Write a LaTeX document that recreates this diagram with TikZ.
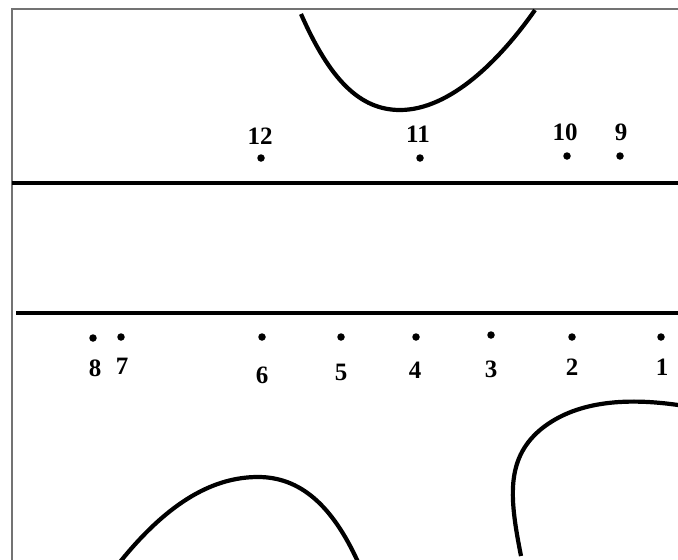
\documentclass[tikz,border=0pt]{standalone}
\usepackage{fontspec}
\setmainfont{Liberation Serif}
\begin{document}
\begin{tikzpicture}[x=1pt,y=-1pt,
  frame/.style={draw=black!55,line width=1.6pt},
  hline/.style={line width=4.6pt},
  curve/.style={line width=4.2pt,line cap=butt},
  pt/.style={circle,fill=black,inner sep=0pt,minimum size=7.5pt},
  lab/.style={inner sep=0pt,font=\fontsize{25}{25}\selectfont\bfseries}]
\useasboundingbox (0,0) rectangle (678,560);
\fill[white] (0,0) rectangle (678,560);
% frame
\draw[frame] (12,560) -- (12,9) -- (678,9);
% horizontal lines
\draw[hline] (12,183) -- (678,183);
\draw[hline] (16,313) -- (678,313);
% curves
\draw[curve] (301,14) .. controls (330,80) and (360,110) .. (400,110)
  .. controls (450,110) and (500,60) .. (535,10);
\draw[curve] (120,562) .. controls (170,500) and (215,477) .. (258,477)
  .. controls (300,477) and (332,505) .. (358,562);
\draw[curve] (521,556) .. controls (510,500) and (505,460) .. (540,430)
  .. controls (570,405) and (615,396) .. (678,405);
% upper points
\node[pt] (p12) at (261,158) {};
\node[pt] (p11) at (420,158) {};
\node[pt] (p10) at (567,156) {};
\node[pt] (p9)  at (620,156) {};
\node[lab] (l12) at (260,136) {12};
\node[lab] (l11) at (418,134) {11};
\node[lab] (l10) at (565,132) {10};
\node[lab] (l9)  at (621,132) {9};
% lower points
\node[pt] (p8) at (93,338) {};
\node[pt] (p7) at (121,337) {};
\node[pt] (p6) at (262,337) {};
\node[pt] (p5) at (341,337) {};
\node[pt] (p4) at (416,337) {};
\node[pt] (p3) at (491,335) {};
\node[pt] (p2) at (572,337) {};
\node[pt] (p1) at (661,337) {};
\node[lab] (l8) at (95,368) {8};
\node[lab] (l7) at (122,366) {7};
\node[lab] (l6) at (262,375) {6};
\node[lab] (l5) at (341,372) {5};
\node[lab] (l4) at (415,370) {4};
\node[lab] (l3) at (491,369) {3};
\node[lab] (l2) at (572,367) {2};
\node[lab] (l1) at (662,367) {1};
\end{tikzpicture}
\end{document}
